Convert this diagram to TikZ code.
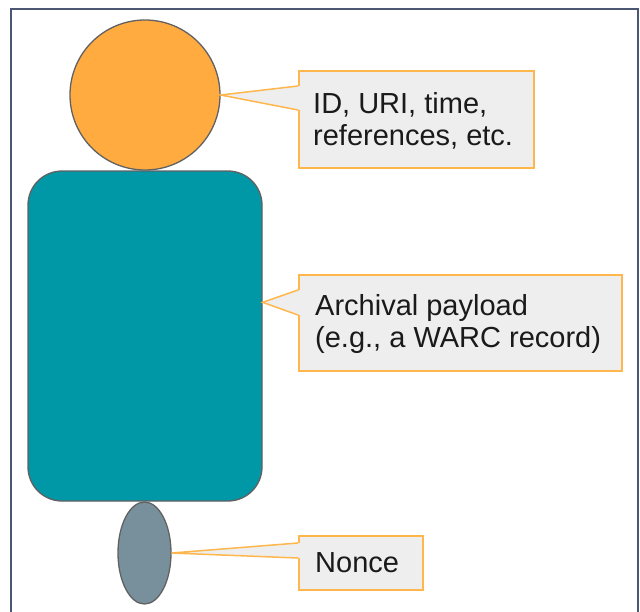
\documentclass[tikz,border=0pt]{standalone}
\usepackage{fontspec}
\setmainfont{Liberation Sans}
\usetikzlibrary{shapes.geometric,calc}
\definecolor{framec}{HTML}{4B5673}
\definecolor{headc}{HTML}{FFAB40}
\definecolor{bodyc}{HTML}{0097A7}
\definecolor{noncec}{HTML}{78909C}
\definecolor{shapeline}{HTML}{616161}
\definecolor{calloutfill}{HTML}{EEEEEE}
\definecolor{calloutline}{HTML}{FFB74D}
\definecolor{textc}{HTML}{1A1A1A}
\tikzset{
  part/.style={draw=shapeline, line width=1.3pt, inner sep=0pt},
  calloutbox/.style={rectangle, draw=calloutline, fill=calloutfill, line width=1.5pt,
    inner sep=0pt, anchor=north west},
  callouttext/.style={align=left, inner sep=0pt, text=textc, anchor=north west,
    font=\fontsize{29}{32}\selectfont},
  pointerfill/.style={fill=calloutfill},
  pointerline/.style={draw=calloutline, line width=1.5pt, line join=miter},
}
\begin{document}
\begin{tikzpicture}[x=1pt,y=-1pt]
\useasboundingbox (0,0) rectangle (640,611);
\draw[framec, line width=2pt] (11,9) rectangle (638,630);

% figure parts
\node[part, circle, fill=headc, minimum size=150pt] (head) at (145,95) {};
\node[part, rectangle, rounded corners=34pt, fill=bodyc,
      minimum width=234pt, minimum height=330pt] (body) at (145,336) {};
\node[part, ellipse, fill=noncec, minimum width=53pt, minimum height=102pt] (nonce) at (144.5,553) {};
\coordinate (bodytip) at ($(body.north east)+(0,132)$);

% callout boxes
\node[calloutbox, minimum width=235pt, minimum height=97pt] (c1) at (298,70) {};
\node[calloutbox, minimum width=323pt, minimum height=96pt] (c2) at (298,274) {};
\node[calloutbox, minimum width=124pt, minimum height=54pt] (c3) at (298,535) {};

% pointers
\fill[pointerfill] ($(c1.north west)+(2,16)$) -- (head.east) -- ($(c1.north west)+(2,40)$) -- cycle;
\draw[pointerline] ($(c1.north west)+(0,16)$) -- (head.east) -- ($(c1.north west)+(0,40)$);
\fill[pointerfill] ($(c2.north west)+(2,16)$) -- (bodytip) -- ($(c2.north west)+(2,41)$) -- cycle;
\draw[pointerline] ($(c2.north west)+(0,16)$) -- (bodytip) -- ($(c2.north west)+(0,41)$);
\fill[pointerfill] ($(c3.north west)+(2,8)$) -- (nonce.east) -- ($(c3.north west)+(2,23)$) -- cycle;
\draw[pointerline] ($(c3.north west)+(0,8)$) -- (nonce.east) -- ($(c3.north west)+(0,23)$);

% callout texts
\node[callouttext] (t1) at ($(c1.north west)+(15,22)$) {ID, URI, time,\\references, etc.};
\node[callouttext] (t2) at ($(c2.north west)+(17,20)$) {Archival payload\\(e.g., a WARC record)};
\node[callouttext] (t3) at ($(c3.north west)+(17,17)$) {Nonce};
\end{tikzpicture}
\end{document}
